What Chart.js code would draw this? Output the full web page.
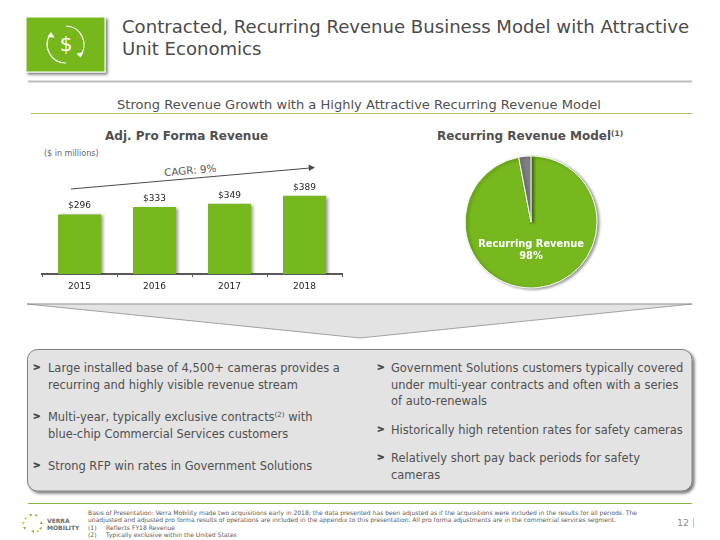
<!DOCTYPE html>
<html>
<head>
<meta charset="utf-8">
<title>Recurring Revenue</title>
<script src="https://cdn.jsdelivr.net/npm/chart.js@4/dist/chart.umd.min.js"></script>
<style>
  html, body { margin: 0; padding: 0; background: #fff; }
  body { position: relative; width: 720px; height: 540px; overflow: hidden; font-family: "DejaVu Sans", sans-serif; color: #4a4a4a; }
  .t { position: absolute; white-space: nowrap; }
  .abs { position: absolute; }
  sup { font-size: 0.62em; line-height: 0; vertical-align: 0.5em; }
  .bullet { font-size: 11.45px; line-height: 16.5px; color: #505050; }
  .mark { font-weight: bold; font-size: 9px; color: #404040; -webkit-text-stroke: 0.5px #404040; }
  .foot { font-size: 6.06px; line-height: 7px; color: #5a5a5a; }
</style>
</head>
<body>
<svg class="abs" style="left:0;top:0" width="720" height="540">
  <defs>
    <filter id="soft" x="-10%" y="-10%" width="125%" height="125%">
      <feDropShadow dx="2" dy="2" stdDeviation="1.5" flood-color="#000" flood-opacity="0.55"/>
    </filter>
  </defs>
  <!-- header -->
  <rect x="26" y="17" width="79" height="55" fill="#76b81e" stroke="#fff" stroke-width="1" filter="url(#soft)"/>
  <g fill="none" stroke="#fff" stroke-width="1.2">
    <path d="M66 26A18.5 18.5 0 0 1 80 56"/>
    <path d="M66 63A18.5 18.5 0 0 1 50.5 34"/>
  </g>
  <path d="M80.5 57.5L76.5 53.5L83.5 52.5Z" fill="#fff"/>
  <path d="M51 32L47.5 37L54.5 37.5Z" fill="#fff"/>
  <text x="66" y="51" text-anchor="middle" fill="#fff" font-size="20" font-family="DejaVu Sans">$</text>
  <line x1="28" y1="81.5" x2="692" y2="81.5" stroke="#bdbdbd" stroke-width="2"/>
  <line x1="31" y1="113.5" x2="692" y2="113.5" stroke="#a9c25f" stroke-width="1"/>
  <!-- CAGR arrow -->
  <line x1="71" y1="189" x2="310" y2="168" stroke="#4a4a4a" stroke-width="1"/>
  <path d="M315 167.6L308.5 164.5L309 171Z" fill="#4a4a4a"/>
  <!-- funnel -->
  <path d="M27 304L692 304L360 338Z" fill="#e3e3e3"/>
  <path d="M27 304L692 304" stroke="#b0b0b0" stroke-width="1.5"/>
  <path d="M27 304L360 338L692 304" fill="none" stroke="#7f7f7f" stroke-width="0.7"/>
  <!-- bullet box -->
  <rect x="27.5" y="349.5" width="664.5" height="141.5" rx="10" ry="10" fill="#e3e3e3" stroke="#808080" stroke-width="1" filter="url(#soft)"/>
  <!-- footer -->
  <line x1="28" y1="503.5" x2="692" y2="503.5" stroke="#86b83f" stroke-width="1.2"/>
  <line x1="693.5" y1="518" x2="693.5" y2="527" stroke="#b6d089" stroke-width="1"/>
  <g fill="#8dbb35">
    <path d="M29 514l3 0l-1 3Z"/><path d="M35 514l3 1l-2 2Z"/><path d="M41 521l2 3l-3 0Z"/>
    <path d="M39 528l3-1l-1 3Z"/><path d="M31 531l3-1l0 3Z"/><path d="M23 527l3 0l-1 3Z"/>
  </g>
  <g fill="#d8c84a">
    <path d="M24 518l3-1l-1 3Z"/><path d="M22 522l3 0l-2 3Z"/><path d="M36 531l3-1l-1 3Z"/>
  </g>
</svg>

<div class="t" style="left:122px;top:16px;font-size:18.08px;line-height:22px;color:#4a4a4a">Contracted, Recurring Revenue Business Model with Attractive<br>Unit Economics</div>
<div class="t" style="left:117px;top:97px;font-size:13.05px;line-height:16px;color:#505050">Strong Revenue Growth with a Highly Attractive Recurring Revenue Model</div>
<div class="t" style="left:105px;top:129px;font-size:12px;line-height:15px;font-weight:bold;color:#505050">Adj. Pro Forma Revenue</div>
<div class="t" style="left:437px;top:129px;font-size:12px;line-height:15px;font-weight:bold;color:#505050">Recurring Revenue Model<sup>(1)</sup></div>
<div class="t" style="left:44px;top:149px;font-size:8px;line-height:10px;color:#666">($ in millions)</div>
<div class="t" style="left:164px;top:164px;font-size:10.4px;line-height:13px;color:#5a5a5a;transform:rotate(-5deg)">CAGR: 9%</div>

<canvas id="barChart" class="abs" style="left:0;top:130px" width="360" height="170"></canvas>
<canvas id="pieChart" class="abs" style="left:451px;top:142px" width="160" height="160"></canvas>

<div class="t mark" style="left:33px;top:362px">&gt;</div>
<div class="t bullet" style="left:48px;top:360px">Large installed base of 4,500+ cameras provides a<br>recurring and highly visible revenue stream</div>
<div class="t mark" style="left:33px;top:411px">&gt;</div>
<div class="t bullet" style="left:48px;top:409px">Multi-year, typically exclusive contracts<sup>(2)</sup> with<br>blue-chip Commercial Services customers</div>
<div class="t mark" style="left:33px;top:460px">&gt;</div>
<div class="t bullet" style="left:48px;top:458px">Strong RFP win rates in Government Solutions</div>

<div class="t mark" style="left:377px;top:362px">&gt;</div>
<div class="t bullet" style="left:391px;top:360px">Government Solutions customers typically covered<br>under multi-year contracts and often with a series<br>of auto-renewals</div>
<div class="t mark" style="left:377px;top:424px">&gt;</div>
<div class="t bullet" style="left:391px;top:422px">Historically high retention rates for safety cameras</div>
<div class="t mark" style="left:377px;top:452px">&gt;</div>
<div class="t bullet" style="left:391px;top:450px">Relatively short pay back periods for safety<br>cameras</div>

<div class="t" style="left:47px;top:517px;font-size:6px;line-height:7px;font-weight:bold;color:#6a6a6a">VERRA<br>MOBILITY</div>
<div class="t foot" style="left:88px;top:509px">Basis of Presentation: Verra Mobility made two acquisitions early in 2018; the data presented has been adjusted as if the acquisitions were included in the results for all periods. The</div>
<div class="t foot" style="left:88px;top:516px">unadjusted and adjusted pro forma results of operations are included in the appendix to this presentation. All pro forma adjustments are in the commercial services segment.</div>
<div class="t foot" style="left:88px;top:523.5px">(1)</div>
<div class="t foot" style="left:106px;top:523.5px">Reflects FY18 Revenue</div>
<div class="t foot" style="left:88px;top:530.5px">(2)</div>
<div class="t foot" style="left:106px;top:530.5px">Typically exclusive within the United States</div>
<div class="t" style="left:677px;top:517px;font-size:9.5px;line-height:12px;color:#8c8c8c">12</div>

<script>
const years = ["2015", "2016", "2017", "2018"];
const revenue = [296, 333, 349, 389];
const pieLabels = ["Recurring Revenue", "Other"];
const pieValues = [97, 3];
const pieText = ["Recurring Revenue", "98%"];

const GREEN = "#76b81e";
const GREY = "#7f7f7f";
const FONT = '"DejaVu Sans", sans-serif';

Chart.defaults.font.family = FONT;

function setShadow(ctx) {
  ctx.save();
  ctx.shadowColor = "rgba(0,0,0,0.4)";
  ctx.shadowBlur = 3;
  ctx.shadowOffsetX = 2;
  ctx.shadowOffsetY = 1;
}

const barExtras = {
  id: "barExtras",
  beforeDatasetsDraw(chart) {
    setShadow(chart.ctx);
  },
  afterDatasetsDraw(chart) {
    const ctx = chart.ctx;
    ctx.restore();
    ctx.save();
    ctx.font = "9px " + FONT;
    ctx.fillStyle = "#262626";
    ctx.textAlign = "center";
    chart.getDatasetMeta(0).data.forEach((bar, i) => {
      ctx.fillText("$" + revenue[i], bar.x, bar.y - 6);
    });
    ctx.restore();
  },
};

const pieExtras = {
  id: "pieExtras",
  beforeDatasetsDraw(chart) {
    setShadow(chart.ctx);
  },
  afterDatasetsDraw(chart) {
    const ctx = chart.ctx;
    ctx.restore();
    ctx.save();
    const arc = chart.getDatasetMeta(0).data[0];
    ctx.font = "bold 9.85px " + FONT;
    ctx.fillStyle = "#fff";
    ctx.textAlign = "center";
    ctx.fillText(pieText[0], arc.x, arc.y + 25);
    ctx.fillText(pieText[1], arc.x, arc.y + 37);
    ctx.restore();
  },
};

new Chart(document.getElementById("barChart"), {
  type: "bar",
  data: {
    labels: years,
    datasets: [
      {
        data: revenue,
        backgroundColor: GREEN,
        categoryPercentage: 1,
        barPercentage: 0.573,
      },
    ],
  },
  plugins: [barExtras],
  options: {
    responsive: false,
    animation: false,
    layout: { padding: { left: 42, right: 18, top: 43.35, bottom: 0 } },
    plugins: { legend: { display: false }, tooltip: { enabled: false } },
    scales: {
      y: { display: false, min: 0, max: 500 },
      x: {
        afterFit: (scale) => {
          scale.height = 26;
        },
        border: { color: "#595959", width: 2 },
        grid: { drawOnChartArea: false, drawTicks: true, tickLength: 3, color: "#595959" },
        ticks: { color: "#262626", font: { size: 9 }, padding: 4, maxRotation: 0 },
      },
    },
  },
});

new Chart(document.getElementById("pieChart"), {
  type: "pie",
  data: {
    labels: pieLabels,
    datasets: [
      {
        data: pieValues,
        backgroundColor: [GREEN, GREY],
        borderColor: "#fff",
        borderWidth: 1,
      },
    ],
  },
  plugins: [pieExtras],
  options: {
    responsive: false,
    animation: false,
    layout: { padding: 13.5 },
    plugins: { legend: { display: false }, tooltip: { enabled: false } },
  },
});
</script>
</body>
</html>
